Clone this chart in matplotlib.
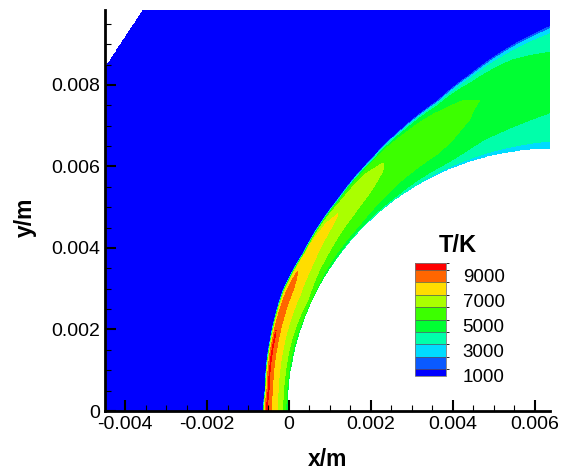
import numpy as np
import matplotlib
matplotlib.use('Agg')
import matplotlib.pyplot as plt
from matplotlib.colors import ListedColormap, BoundaryNorm
from matplotlib.cm import ScalarMappable
from matplotlib.ticker import MultipleLocator

plt.rcParams['font.family'] = ['Liberation Sans', 'DejaVu Sans']

# sphere: centre on the axis and radius (m)
body_xc = 0.00640
body_r = 0.00644

# bow shock position (m)
shock_x = [-0.000634, -0.000585, -0.000463, -0.000146, 0.000341, 0.001171,
           0.001976, 0.00278, 0.00361, 0.004415, 0.00637]
shock_y = [0.0, 0.000515, 0.001742, 0.002969, 0.003877, 0.005178,
           0.00616, 0.006969, 0.007632, 0.008294, 0.0095]

# outer boundary of the domain in the upper-left corner (m)
domain_x = [-0.00449, -0.00356]
domain_y = [0.00842, 0.00984]

T_inf = 300.0

# temperature across the shock layer, s = 0 at the shock, s = 1 on the wall
layer_s = [0, 0.04, 0.08, 0.15, 0.25, 0.35, 0.5, 0.65, 0.8, 0.9, 0.96, 1.0]
layer_angle = [0, 15, 25, 32, 44, 56, 66, 76, 90]
T_layer = [
    [300, 7000, 8500, 9700, 8900, 8400, 7800, 7200, 6550, 5900, 5300, 4600],
    [300, 6500, 8300, 9650, 8850, 8300, 7750, 7100, 6500, 5900, 5200, 4400],
    [300, 6000, 7900, 8850, 8700, 8350, 7750, 7250, 6800, 6400, 5800, 4600],
    [300, 5500, 7900, 8250, 8100, 7750, 7400, 6850, 6250, 5700, 5300, 4500],
    [300, 4500, 6300, 7150, 7450, 7350, 6950, 6300, 5900, 5500, 4800, 3400],
    [300, 3800, 5600, 6200, 6500, 6450, 6200, 5900, 5400, 5000, 4400, 3200],
    [300, 3000, 5000, 5700, 6100, 6150, 6000, 5700, 5200, 4600, 3800, 3000],
    [300, 2800, 4200, 5000, 5400, 5550, 5400, 5100, 4500, 4000, 3500, 2900],
    [300, 2500, 3500, 4100, 4600, 4900, 5000, 4700, 4200, 3800, 3350, 2800],
]

levels = [1500, 2500, 3500, 4500, 5500, 6500, 7500, 8500, 9500]
colors = ['#0000ff', '#0a5aff', '#00dcff', '#00ffaa', '#00ff33',
          '#3cff00', '#aaff00', '#ffdd00', '#ff6600', '#ff0000']
legend_ticks = [1000, 3000, 5000, 7000, 9000]

xticks = [-0.004, -0.002, 0, 0.002, 0.004, 0.006]
yticks = [0, 0.002, 0.004, 0.006, 0.008]
xlim = (-0.00449, 0.00637)
ylim = (0.0, 0.00984)


def main():
    X, Y = np.meshgrid(np.linspace(xlim[0], xlim[1], 800),
                       np.linspace(ylim[0], ylim[1], 740))
    r = np.hypot(body_xc - X, Y)
    th = np.degrees(np.arctan2(Y, body_xc - X))

    sx = body_xc - np.array(shock_x)
    sy = np.array(shock_y)
    sh_r = np.hypot(sx, sy)
    sh_th = np.degrees(np.arctan2(sy, sx))
    r_s = np.interp(th, sh_th, sh_r)
    s = np.clip((r_s - r) / (r_s - body_r), 0, 1)

    # profile across the layer at each station, then blend between stations
    Ts = np.array([np.interp(s, layer_s, row) for row in T_layer])
    ang = np.array(layer_angle, dtype=float)
    thc = np.clip(th, ang[0], ang[-1])
    i = np.clip(np.searchsorted(ang, thc) - 1, 0, len(ang) - 2)
    w = (thc - ang[i]) / (ang[i + 1] - ang[i])
    T0 = np.take_along_axis(Ts, i[None], axis=0)[0]
    T1 = np.take_along_axis(Ts, (i + 1)[None], axis=0)[0]
    T = T0 * (1 - w) + T1 * w
    T[s <= 0] = T_inf

    slope = (domain_y[1] - domain_y[0]) / (domain_x[1] - domain_x[0])
    outside = Y > domain_y[0] + slope * (X - domain_x[0])
    T = np.ma.masked_where((r < body_r) | outside, T)

    fig = plt.figure(figsize=(5.7, 4.7), dpi=100)
    ax = fig.add_axes([105 / 570, 59 / 470, 445 / 570, 401 / 470])
    ax.contourf(X, Y, T, levels=[0] + levels + [20000], colors=colors)

    ax.set_xlim(*xlim)
    ax.set_ylim(*ylim)
    ax.set_xticks(xticks)
    ax.set_xticklabels(['%g' % v for v in xticks])
    ax.set_yticks(yticks)
    ax.set_yticklabels(['%g' % v for v in yticks])
    ax.xaxis.set_minor_locator(MultipleLocator(0.0005))
    ax.yaxis.set_minor_locator(MultipleLocator(0.0005))
    ax.tick_params(which='major', direction='in', length=8, width=1.5,
                   labelsize=14, pad=3.5)
    ax.tick_params(which='minor', direction='in', length=4.5, width=0.8)
    for side in ['top', 'right']:
        ax.spines[side].set_visible(False)
    for side in ['left', 'bottom']:
        ax.spines[side].set_linewidth(2)

    ax.set_xlabel('x/m', fontsize=16.5, fontweight='bold')
    ax.set_ylabel('y/m', fontsize=16.5, fontweight='bold')
    ax.xaxis.set_label_coords(0.5, -0.092)
    ax.yaxis.set_label_coords(-0.153, 0.484)

    # contour legend
    lax = fig.add_axes([415 / 570, (470 - 375.7) / 470, 31 / 570, 112.4 / 470])
    bounds = [1000] + levels + [10000]
    sm = ScalarMappable(norm=BoundaryNorm(bounds, len(colors)),
                        cmap=ListedColormap(colors))
    cb = fig.colorbar(sm, cax=lax, spacing='proportional',
                      ticks=legend_ticks, drawedges=True)
    cb.ax.tick_params(length=0, labelsize=13.5, pad=12)
    cb.outline.set_linewidth(0.6)
    cb.outline.set_edgecolor('#777777')
    cb.dividers.set_color('#555555')
    cb.dividers.set_linewidth(0.5)
    fig.text(458 / 570, 1 - 246 / 470, 'T/K', fontsize=17, fontweight='bold',
             ha='center', va='center')

    fig.savefig('out.png', dpi=100)


if __name__ == '__main__':
    main()
